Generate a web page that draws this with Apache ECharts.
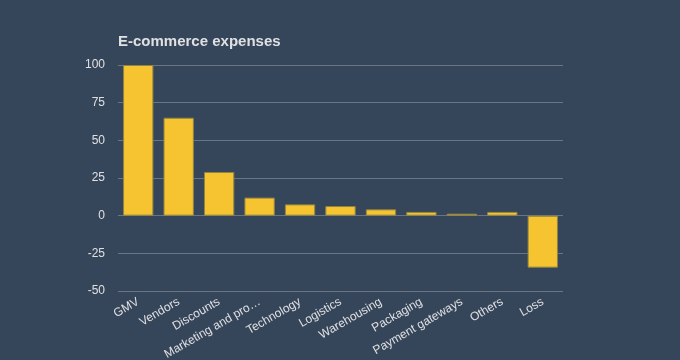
<!DOCTYPE html>
<html><head><meta charset="utf-8">
<script src="https://cdn.jsdelivr.net/npm/echarts@6/dist/echarts.min.js"></script>
<style>html,body{margin:0;padding:0;background:#36465a;}#c{width:680px;height:360px;}</style>
</head><body><div id="c"></div>
<script>
const categories = ["GMV","Vendors","Discounts","Marketing and promotions","Technology","Logistics","Warehousing","Packaging","Payment gateways","Others","Loss"];
const values = [100, 65, 29, 12, 7.5, 6.4, 4.2, 2.5, 1.3, 2.5, -34.5];
const yTicks = [-50, -25, 0, 25, 50, 75, 100];
const chart = echarts.init(document.getElementById('c'), null, {renderer:'canvas'});
chart.setOption({
  backgroundColor:'#36465a',
  animation:false,
  title:{text:'E-commerce expenses', left:113, top:29,
    textStyle:{color:'#e0e0e3', fontSize:15, fontWeight:'bold', fontFamily:'Liberation Sans, Arial, sans-serif'}},
  grid:{left:118, right:117, top:65, bottom:69, containLabel:false, outerBoundsMode:'none'},
  xAxis:{type:'category', data:categories,
    axisLine:{show:false}, axisTick:{show:false},
    axisLabel:{color:'#e0e0e3', fontSize:12, rotate:30, interval:0, margin:10,
      width:114, overflow:'truncate', ellipsis:'…', fontFamily:'Liberation Sans, Arial, sans-serif'}},
  yAxis:{type:'value', min:yTicks[0], max:yTicks[yTicks.length-1], interval:25,
    axisLine:{show:false}, axisTick:{show:false},
    axisLabel:{color:'#e0e0e3', fontSize:12, margin:13, fontFamily:'Liberation Sans, Arial, sans-serif'},
    splitLine:{lineStyle:{color:'#6a7482', width:1}}},
  series:[{type:'bar', data:values, barCategoryGap:'25%',
    itemStyle:{color:'#f6c431', borderColor:'#8f8443', borderWidth:1}}]
});
</script></body></html>
